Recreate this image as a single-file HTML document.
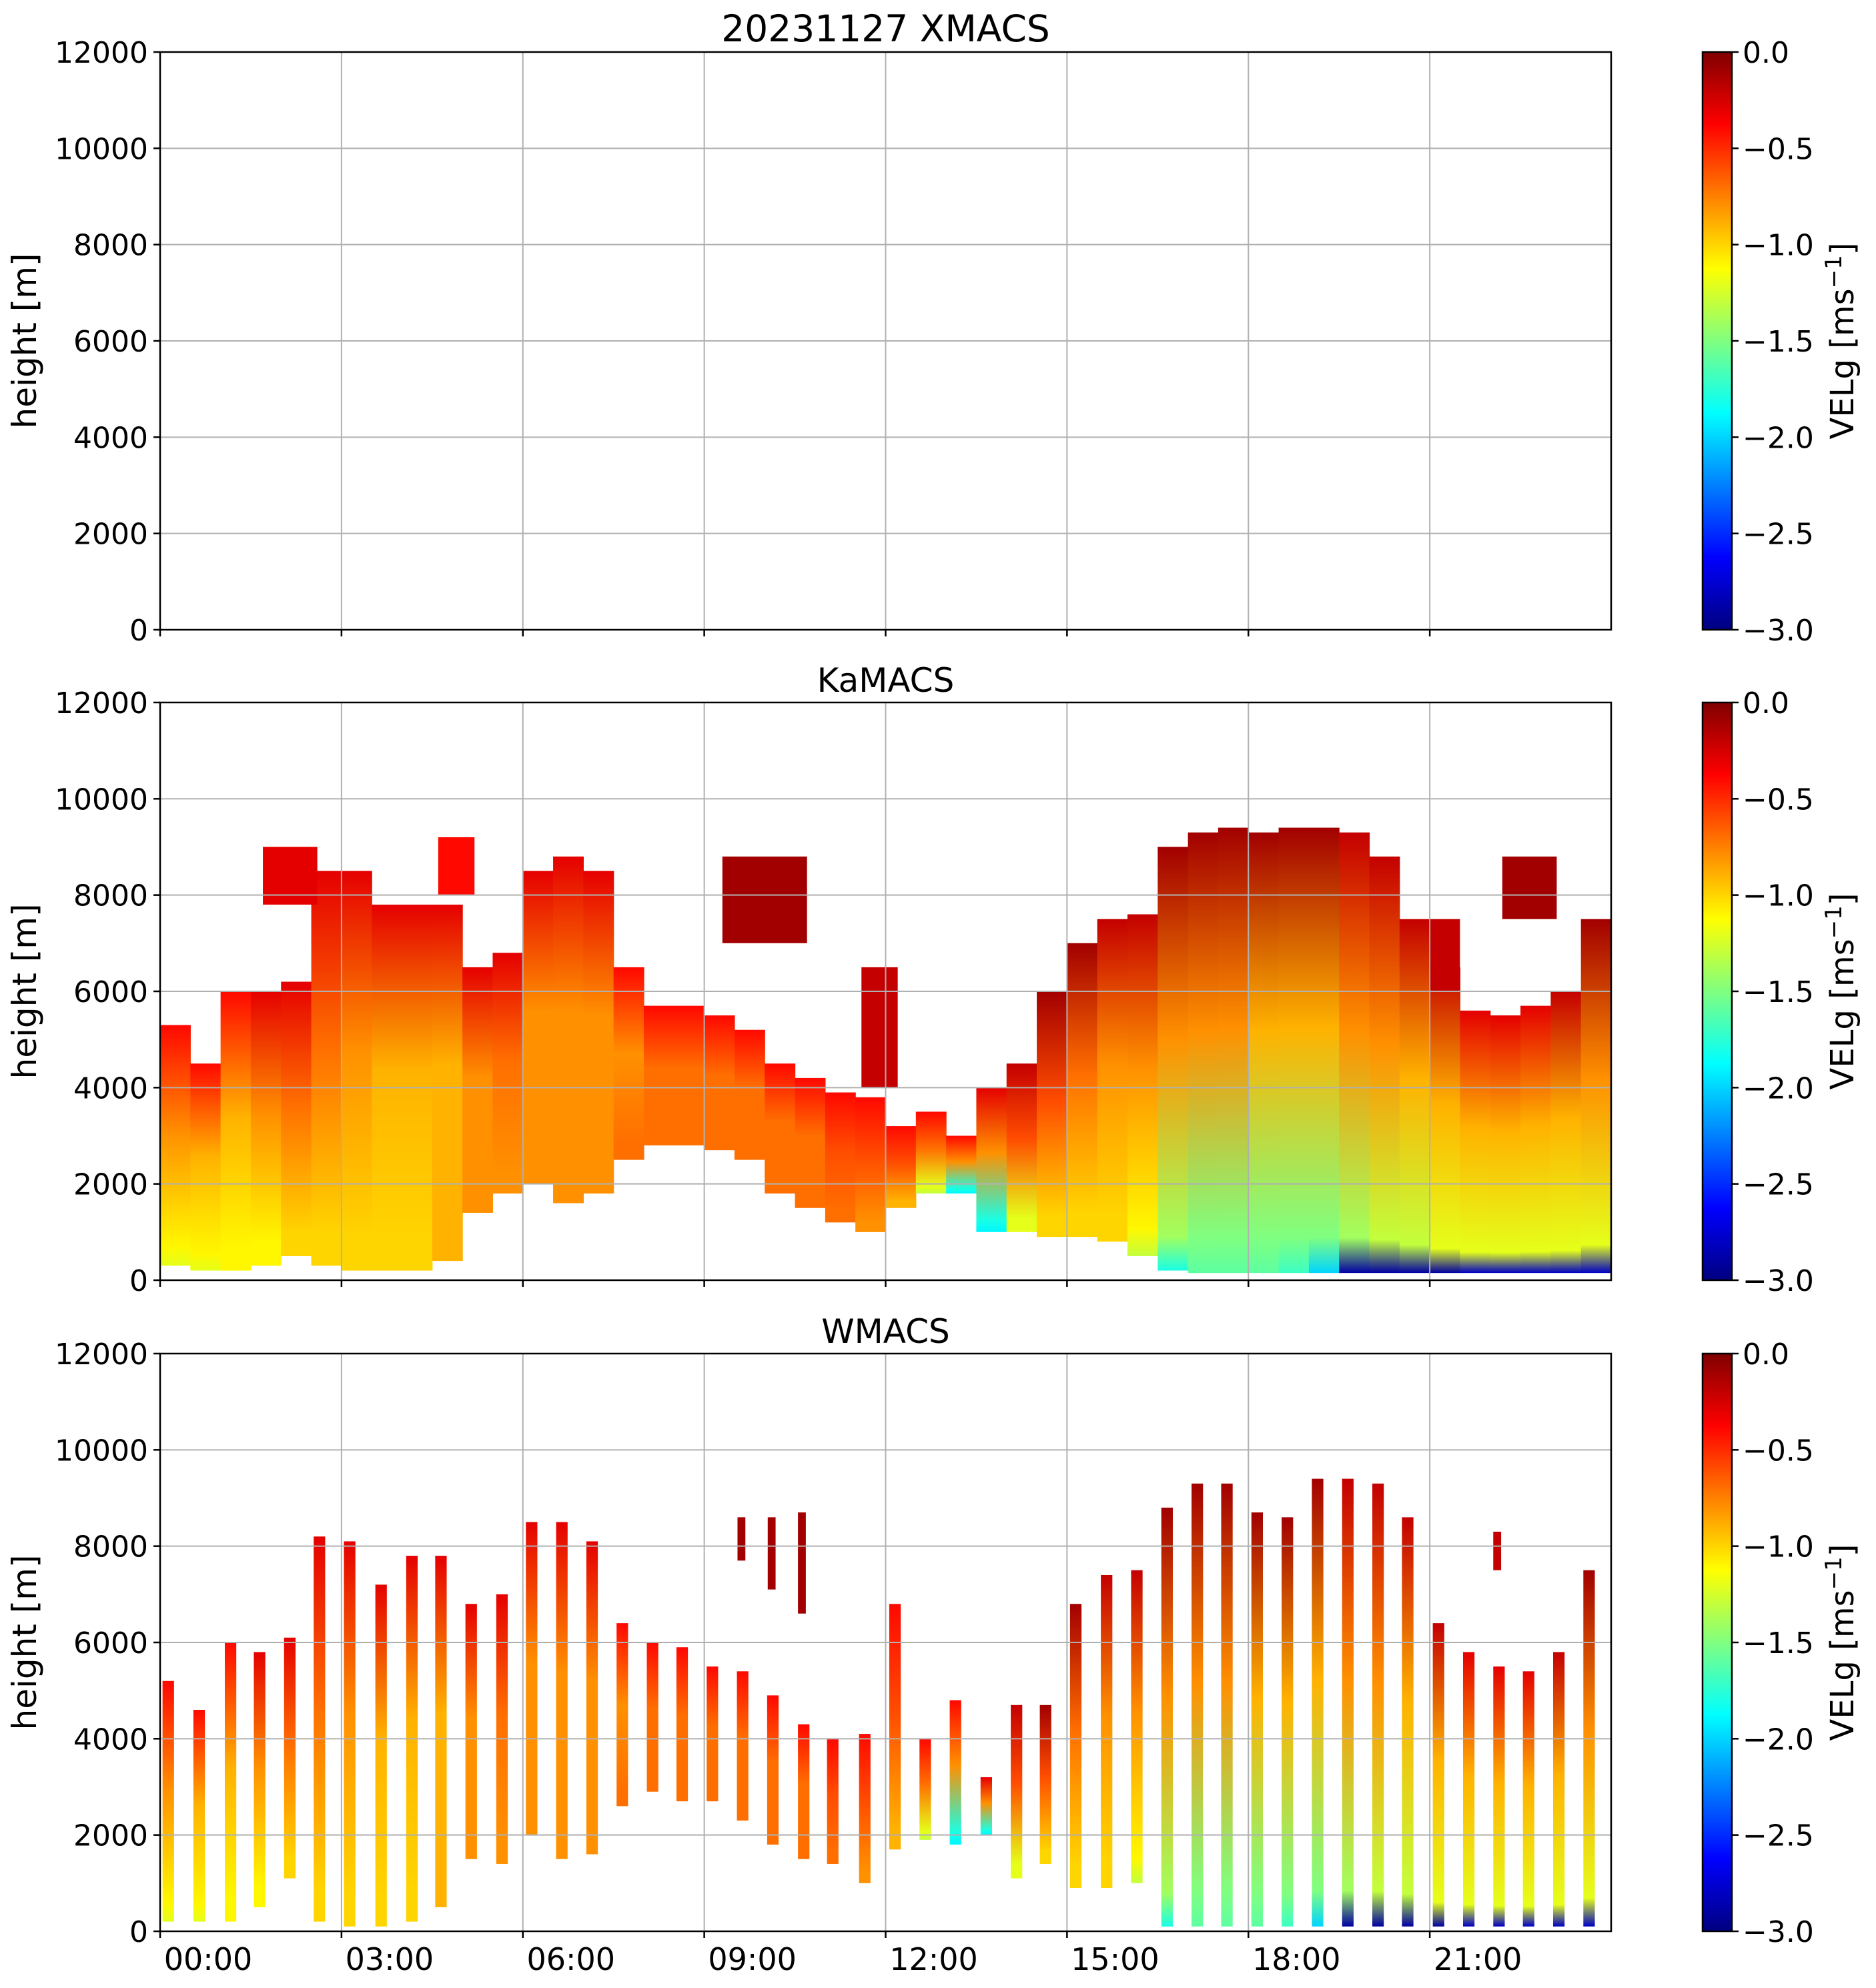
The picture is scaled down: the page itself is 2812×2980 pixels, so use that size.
<!DOCTYPE html>
<html><head><meta charset="utf-8">
<style>
html,body{margin:0;padding:0;background:#fff;}
svg{display:block;font-family:"DejaVu Sans","Liberation Sans",sans-serif;}
</style></head>
<body>
<svg id="fig" width="2812" height="2980" viewBox="0 0 2812 2980" xmlns="http://www.w3.org/2000/svg">
<defs id="defs"></defs>
</svg>
<script>
// ---------- data ----------
const kaTimes = [0,0.5,1,1.5,2,2.5,3,3.5,4,4.5,5,5.5,6,6.5,7,7.5,8,8.5,9,9.5,10,10.5,11,11.5,12,12.5,13,13.5,14,14.5,15,15.5,16,16.5,17,17.5,18,18.5,19,19.5,20,20.5,21,21.5,22,22.5,23,23.5];
const kaTop  = [5300,4500,6000,6000,6200,8500,8500,7800,7800,7800,6500,6800,8500,8800,8500,6500,5700,5700,5500,5200,4500,4200,3900,3800,3200,3500,3000,4000,4500,6000,7000,7500,7600,9000,9300,9400,9300,9400,9400,9300,8800,7500,6500,5600,5500,5700,6000,7500];
const kaBase = [300,200,200,300,500,300,200,200,200,400,1400,1800,2000,1600,1800,2500,2800,2800,2700,2500,1800,1500,1200,1000,1500,1800,1800,1000,1000,900,900,800,500,200,150,150,150,150,150,150,150,150,150,150,150,150,150,150];
const kaVTop = [-0.4,-0.4,-0.4,-0.3,-0.3,-0.3,-0.3,-0.3,-0.3,-0.3,-0.3,-0.3,-0.3,-0.3,-0.3,-0.4,-0.4,-0.4,-0.4,-0.4,-0.4,-0.4,-0.4,-0.4,-0.4,-0.4,-0.4,-0.3,-0.2,-0.1,-0.1,-0.2,-0.2,-0.1,-0.1,-0.1,-0.1,-0.1,-0.1,-0.2,-0.2,-0.2,-0.2,-0.3,-0.3,-0.3,-0.2,-0.1];
const kaVMid = [-0.8,-0.9,-0.9,-0.8,-0.7,-0.7,-0.8,-0.9,-0.9,-0.9,-0.8,-0.7,-0.8,-0.8,-0.8,-0.8,-0.7,-0.7,-0.7,-0.7,-0.7,-0.7,-0.6,-0.6,-0.6,-0.7,-0.8,-0.8,-0.6,-0.6,-0.7,-0.8,-0.8,-0.8,-0.8,-0.8,-0.9,-0.9,-0.9,-0.8,-0.8,-0.9,-0.9,-0.9,-0.9,-0.9,-0.9,-0.8];
const kaVBot = [-1.1,-1.1,-1.1,-1.1,-1.0,-1.0,-1.0,-1.0,-1.0,-0.9,-0.8,-0.8,-0.8,-0.8,-0.8,-0.7,-0.7,-0.7,-0.7,-0.7,-0.7,-0.7,-0.7,-0.8,-0.9,-1.2,-1.8,-1.8,-1.2,-1.0,-1.0,-1.0,-1.1,-1.4,-1.5,-1.5,-1.5,-1.5,-1.5,-1.4,-1.3,-1.3,-1.2,-1.2,-1.2,-1.2,-1.2,-1.2];
const kaVSfc = [-1.2,-1.2,-1.1,-1.1,-1.0,-1.0,-1.0,-1.0,-1.0,-0.9,-0.8,-0.8,-0.8,-0.8,-0.8,-0.7,-0.7,-0.7,-0.7,-0.7,-0.7,-0.7,-0.7,-0.8,-0.9,-1.3,-1.9,-1.9,-1.2,-1.0,-1.0,-1.0,-1.3,-1.8,-1.6,-1.6,-1.6,-1.7,-2.0,-2.9,-2.9,-2.9,-2.9,-2.8,-2.8,-2.8,-2.8,-2.8];
const kaPatchT0 = [1.7,4.6,9.3,11.6,22.2,21.0];
const kaPatchT1 = [2.6,5.2,10.7,12.2,23.1,21.5];
const kaPatchBase = [7800,8000,7000,4000,7500,6000];
const kaPatchTop = [9000,9200,8800,6500,8800,7500];
const kaPatchV = [-0.3,-0.4,-0.1,-0.2,-0.1,-0.2];

const wmStart = [0.04,0.55,1.07,1.55,2.05,2.54,3.04,3.56,4.07,4.55,5.05,5.56,6.05,6.55,7.05,7.55,8.05,8.54,9.04,9.54,10.04,10.55,11.03,11.56,12.06,12.56,13.06,13.57,14.07,14.55,15.05,15.56,16.06,16.56,17.06,17.55,18.05,18.55,19.05,19.55,20.05,20.54,21.05,21.55,22.05,22.54,23.04,23.54];
const wmTop  = [5200,4600,6000,5800,6100,8200,8100,7200,7800,7800,6800,7000,8500,8500,8100,6400,6000,5900,5500,5400,4900,4300,4000,4100,6800,4000,4800,3200,4700,4700,6800,7400,7500,8800,9300,9300,8700,8600,9400,9400,9300,8600,6400,5800,5500,5400,5800,7500];
const wmBase = [200,200,200,500,1100,200,100,100,200,500,1500,1400,2000,1500,1600,2600,2900,2700,2700,2300,1800,1500,1400,1000,1700,1900,1800,2000,1100,1400,900,900,1000,100,100,100,100,100,100,100,100,100,100,100,100,100,100,100];
const wmAloftStart = [9.55,10.05,10.55,22.05];
const wmAloftBase = [7700,7100,6600,7500];
const wmAloftTop = [8600,8600,8700,8300];
const wmAloftV = [-0.1,-0.1,-0.1,-0.2];

const yTicks = [0,2000,4000,6000,8000,10000,12000];
const xTicks = [0,3,6,9,12,15,18,21];
const xTickLabels = ["00:00","03:00","06:00","09:00","12:00","15:00","18:00","21:00"];
const cbTicks = [0,-0.5,-1,-1.5,-2,-2.5,-3];
const cbTickLabels = ["0.0","\u22120.5","\u22121.0","\u22121.5","\u22122.0","\u22122.5","\u22123.0"];
const panelTitles = ["20231127 XMACS","KaMACS","WMACS"];

// ---------- layout ----------
const AX_L=240, AX_R=2415, AX_H=866;
const panelTops=[78,1053,2029];
const CB_L=2552, CB_R=2596;
const FS=44;
const NS='http://www.w3.org/2000/svg';
const svg=document.getElementById('fig');
const defs=document.getElementById('defs');
function xS(t){return AX_L+(t/24)*(AX_R-AX_L);}
function yS(top,h){return top+AX_H-(h/12000)*AX_H;}
function cbY(top,v){return top+(-v/3)*AX_H;}
function jet(v){
  let f=(v+3)/3; f=Math.max(0,Math.min(1,f));
  const c=x=>Math.round(255*Math.max(0,Math.min(1,x)));
  const r=c(1.5-Math.abs(4*f-3)), g=c(1.5-Math.abs(4*f-2)), b=c(1.5-Math.abs(4*f-1));
  return `rgb(${r},${g},${b})`;
}
function mk(tag,attrs,parent){
  const e=document.createElementNS(NS,tag);
  for(const k in attrs) e.setAttribute(k,attrs[k]);
  (parent||svg).appendChild(e); return e;
}
let gid=0;
function grad(stops){
  const id='g'+(gid++);
  const g=mk('linearGradient',{id:id,x1:0,y1:0,x2:0,y2:1},defs);
  stops.forEach(s=>mk('stop',{offset:s[0],'stop-color':jet(s[1])},g));
  return id;
}

const cbg=grad([[0,0],[0.125,-0.375],[0.25,-0.75],[0.375,-1.125],[0.5,-1.5],[0.625,-1.875],[0.75,-2.25],[0.875,-2.625],[1,-3]]);

panelTops.forEach((top,pi)=>{
  const g=mk('g',{});
  
  
  const dg=mk('g',{},g);
  
  
  if(pi===1){
    kaTimes.forEach((t,i)=>{
      const id=grad([[0,kaVTop[i]],[0.45,kaVMid[i]],[0.92,kaVBot[i]],[1,kaVSfc[i]]]);
      const x0=xS(t), x1=xS(t+0.5);
      const r=mk('rect',{x:x0,y:yS(top,kaTop[i]),width:x1-x0+0.6,height:yS(top,kaBase[i])-yS(top,kaTop[i]),fill:`url(#${id})`},dg);
      
      
    });
    kaPatchT0.forEach((t,i)=>{
      const r=mk('rect',{x:xS(t),y:yS(top,kaPatchTop[i]),width:xS(kaPatchT1[i])-xS(t),height:yS(top,kaPatchBase[i])-yS(top,kaPatchTop[i]),fill:jet(kaPatchV[i])},dg);
      
      
    });
  }
  if(pi===2){
    const w=0.19;
    wmStart.forEach((t,i)=>{
      const id=grad([[0,kaVTop[i]],[0.45,kaVMid[i]],[0.92,kaVBot[i]],[1,kaVSfc[i]]]);
      const r=mk('rect',{x:xS(t),y:yS(top,wmTop[i]),width:xS(t+w)-xS(t),height:yS(top,wmBase[i])-yS(top,wmTop[i]),fill:`url(#${id})`},dg);
      
      
    });
    wmAloftStart.forEach((t,i)=>{
      const r=mk('rect',{x:xS(t),y:yS(top,wmAloftTop[i]),width:xS(t+0.13)-xS(t),height:yS(top,wmAloftBase[i])-yS(top,wmAloftTop[i]),fill:jet(wmAloftV[i])},dg);
      
      
    });
  }
  xTicks.forEach(t=>{ if(t>0){ const l=mk('line',{x1:xS(t),x2:xS(t),y1:top,y2:top+AX_H,stroke:'#b0b0b0','stroke-width':2},g);
     }});
  yTicks.forEach(v=>{ if(v>0&&v<12000){ const l=mk('line',{x1:AX_L,x2:AX_R,y1:yS(top,v),y2:yS(top,v),stroke:'#b0b0b0','stroke-width':2},g);
     }});
  const fr=mk('rect',{x:AX_L,y:top,width:AX_R-AX_L,height:AX_H,fill:'none',stroke:'#000','stroke-width':2.5},g);
   
  yTicks.forEach(v=>{
    const y=yS(top,v);
    mk('line',{x1:AX_L-10,x2:AX_L,y1:y,y2:y,stroke:'#000','stroke-width':2.5},g);
    const tx=mk('text',{x:AX_L-18,y:y+16,'font-size':FS,'text-anchor':'end'},g);
    tx.textContent=String(v);
     
  });
  xTicks.forEach((t,i)=>{
    mk('line',{x1:xS(t),x2:xS(t),y1:top+AX_H,y2:top+AX_H+10,stroke:'#000','stroke-width':2.5},g);
    if(pi===2){
      const tx=mk('text',{x:xS(t)+72,y:top+AX_H+58,'font-size':46,'text-anchor':'middle'},g);
      tx.textContent=xTickLabels[i];
       
    }
  });
  const yl=mk('text',{x:0,y:0,'font-size':50,'text-anchor':'middle',transform:`translate(54 ${top+AX_H/2}) rotate(-90)`},g);
  yl.textContent='height [m]';
   
  const tt=mk('text',{x:(AX_L+AX_R)/2,y:top-16,'font-size':pi===0?55:50,'text-anchor':'middle'},g);
  tt.textContent=panelTitles[pi];
   
  const cb=mk('g',{},g);
   
  mk('rect',{x:CB_L,y:top,width:CB_R-CB_L,height:AX_H,fill:`url(#${cbg})`,stroke:'#000','stroke-width':2.5},cb);
  cbTicks.forEach((v,i)=>{
    const y=cbY(top,v);
    mk('line',{x1:CB_R,x2:CB_R+10,y1:y,y2:y,stroke:'#000','stroke-width':2.5},cb);
    const tx=mk('text',{x:CB_R+16,y:y+16,'font-size':FS},cb);
    tx.textContent=cbTickLabels[i];
     
  });
  const cl=mk('text',{x:0,y:0,'font-size':48,'text-anchor':'middle',transform:`translate(2778 ${top+AX_H/2}) rotate(-90)`},cb);
  cl.innerHTML='VELg [ms<tspan dy="-18" font-size="34">\u22121</tspan><tspan dy="18">]</tspan>';
   
});
</script>
</body></html>
